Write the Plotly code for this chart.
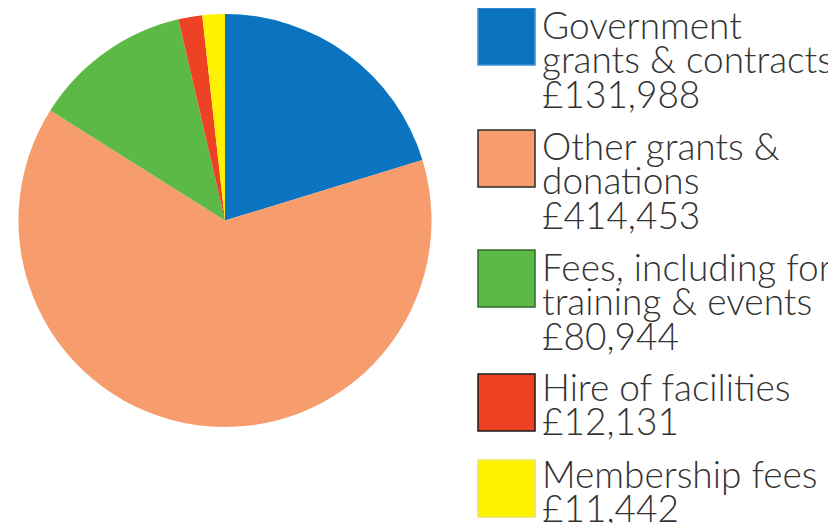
import plotly.graph_objects as go

categories = ["Government grants & contracts", "Other grants & donations",
              "Fees, including for training & events", "Hire of facilities", "Membership fees"]
values = [131988, 414453, 80944, 12131, 11442]
legend_lines = [["Government", "grants & contracts"],
                ["Other grants &", "donations"],
                ["Fees, including for", "training & events"],
                ["Hire of facilities"],
                ["Membership fees"]]
colors = ["#0A74C1", "#F79C6C", "#5DB946", "#EE4224", "#FFF200"]
box_borders = ["#3D8FD6", "#2A2A2A", "#2F6A2C", "#1A1A1A", "#EDE35A"]

W, H = 836, 523
OFF = 8  # page body margin

def px(x):
    return (x - OFF) / W

def py(y):
    return 1 - (y - OFF) / H

fig = go.Figure()
fig.add_trace(go.Pie(
    labels=categories, values=values, sort=False, direction="clockwise",
    rotation=0, textinfo="none", showlegend=False,
    marker=dict(colors=colors, line=dict(width=0)),
    domain=dict(x=[px(18), px(432)], y=[py(427), py(14)]),
))

# legend drawn as shapes + text
box_tops = [8, 130, 250, 374, 460]
first_baselines = [37, 158, 279, 399, 486]
font_size = 37
line_gap = 34.5
shapes = []
annotations = []
for i in range(len(categories)):
    t = box_tops[i]
    shapes.append(dict(type="rect", xref="paper", yref="paper",
                       x0=px(478), x1=px(535), y0=py(t + 57), y1=py(t),
                       fillcolor=colors[i], line=dict(color=box_borders[i], width=1.5)))
    lines = legend_lines[i] + ["£{:,}".format(values[i])]
    for j, txt in enumerate(lines):
        base = first_baselines[i] + j * line_gap
        annotations.append(dict(text=txt, xref="paper", yref="paper",
                                x=px(540), y=py(base - 0.35 * font_size),
                                xanchor="left", yanchor="middle", showarrow=False,
                                font=dict(family="Lato", weight=300, size=font_size, color="#333333")))

fig.update_layout(width=W, height=H, margin=dict(l=0, r=0, t=0, b=0),
                  paper_bgcolor="white", plot_bgcolor="white",
                  shapes=shapes, annotations=annotations)
fig.write_html("out.html")
